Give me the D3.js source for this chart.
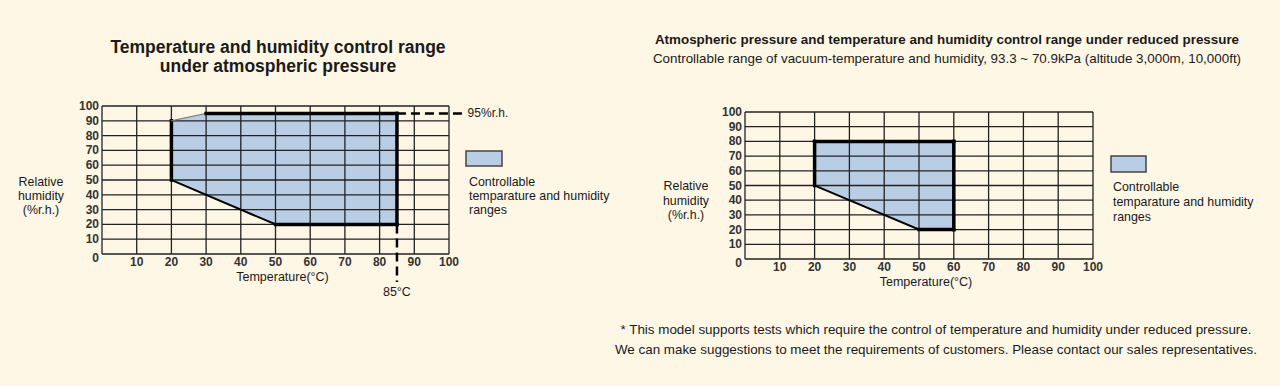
<!DOCTYPE html>
<meta charset="utf-8">
<style>
body { margin: 0; background: #fef7e6; }
svg text { font-family: "Liberation Sans", Arial, sans-serif; fill: #1a1a1a; }
</style>
<svg id="chart" width="1280" height="386"></svg>
<script src="https://d3js.org/d3.v7.min.js"></script>
<script>

// data
var gridX = [0, 10, 20, 30, 40, 50, 60, 70, 80, 90, 100];
var gridY = [0, 10, 20, 30, 40, 50, 60, 70, 80, 90, 100];
var xLabels = [10, 20, 30, 40, 50, 60, 70, 80, 90, 100];
var yLabels = [0, 10, 20, 30, 40, 50, 60, 70, 80, 90, 100];

// controllable range, atmospheric pressure (temp, %rh)
var range1 = [[20, 50], [20, 90], [30, 95], [85, 95], [85, 20], [50, 20]];
// controllable range, reduced pressure
var range2 = [[20, 50], [20, 80], [60, 80], [60, 20], [50, 20]];

var maxTemp1 = 85, maxHum1 = 95;

var svg = d3.select("svg#chart");
svg.append("rect").attr("width", 1280).attr("height", 386).attr("fill", "#fef7e6");

var fillColor = "#b9cde5";

function drawChart(left, top, w, h, region, thickEdges) {
	var x = d3.scaleLinear().domain([0, 100]).range([left, left + w]);
	var y = d3.scaleLinear().domain([0, 100]).range([top + h, top]);
	var g = svg.append("g");

	// polygon fill
	g.append("path")
		.attr("d", d3.line().x(function(d) { return x(d[0]); }).y(function(d) { return y(d[1]); })(region) + "Z")
		.attr("fill", fillColor);

	// grid
	g.selectAll("line.gx").data(gridX).enter().append("line")
		.attr("x1", function(d) { return x(d); }).attr("x2", function(d) { return x(d); })
		.attr("y1", y(0)).attr("y2", y(100))
		.attr("stroke", "#222").attr("stroke-width", 1.3);
	g.selectAll("line.gy").data(gridY).enter().append("line")
		.attr("y1", function(d) { return y(d); }).attr("y2", function(d) { return y(d); })
		.attr("x1", x(0)).attr("x2", x(100))
		.attr("stroke", "#222").attr("stroke-width", 1.3);

	// edges of the range
	for (var i = 0; i < region.length; i++) {
		var a = region[i], b = region[(i + 1) % region.length];
		var kind = thickEdges[i];
		g.append("line")
			.attr("x1", x(a[0])).attr("y1", y(a[1]))
			.attr("x2", x(b[0])).attr("y2", y(b[1]))
			.attr("stroke", kind === 0 ? "#777" : "#000")
			.attr("stroke-width", kind === 2 ? 3.5 : (kind === 1 ? 2 : 1.2))
			.attr("stroke-linecap", "square");
	}

	// tick labels
	g.selectAll("text.xl").data(xLabels).enter().append("text")
		.attr("x", function(d) { return x(d); }).attr("y", y(0) + 12)
		.attr("text-anchor", "middle")
		.style("font-size", "12px").style("font-weight", "bold").style("fill", "#333")
		.text(function(d) { return d; });
	g.selectAll("text.yl").data(yLabels).enter().append("text")
		.attr("x", x(0) - 3).attr("y", function(d) { return y(d) + (d === 0 ? 8 : 4); })
		.attr("text-anchor", "end")
		.style("font-size", "12px").style("font-weight", "bold").style("fill", "#333")
		.text(function(d) { return d; });

	g.append("text").attr("x", x(50) + 7).attr("y", y(0) + 27)
		.attr("text-anchor", "middle").style("font-size", "12.5px")
		.text("Temperature(°C)");

	return { x: x, y: y };
}

function multiline(x, y, lines, anchor, size, dy) {
	var t = svg.append("text").attr("x", x).attr("y", y)
		.attr("text-anchor", anchor).style("font-size", size + "px");
	lines.forEach(function(l, i) {
		t.append("tspan").attr("x", x).attr("dy", i === 0 ? 0 : dy).text(l);
	});
	return t;
}

// chart 1
var c1 = drawChart(102, 106, 347, 148, range1, [2, 0, 2, 2, 2, 1]);

svg.append("line")
	.attr("x1", c1.x(maxTemp1)).attr("y1", c1.y(maxHum1))
	.attr("x2", c1.x(104.5)).attr("y2", c1.y(maxHum1))
	.attr("stroke", "#000").attr("stroke-width", 2.5).attr("stroke-dasharray", "9,5");
svg.append("line")
	.attr("x1", c1.x(maxTemp1)).attr("y1", c1.y(20))
	.attr("x2", c1.x(maxTemp1)).attr("y2", c1.y(0) + 28)
	.attr("stroke", "#000").attr("stroke-width", 2.5).attr("stroke-dasharray", "9,5");
svg.append("text").attr("x", c1.x(104.5) + 3).attr("y", c1.y(maxHum1) + 4)
	.style("font-size", "12px").text(maxHum1 + "%r.h.");
svg.append("text").attr("x", c1.x(maxTemp1)).attr("y", c1.y(0) + 42)
	.attr("text-anchor", "middle").style("font-size", "12.5px").text(maxTemp1 + "°C");

multiline(278, 53, ["Temperature and humidity control range", "under atmospheric pressure"], "middle", 17.5, 19)
	.style("font-weight", "bold");
multiline(41, 186, ["Relative", "humidity", "(%r.h.)"], "middle", 12.4, 14);

svg.append("rect").attr("x", 466).attr("y", 151).attr("width", 36).attr("height", 15)
	.attr("fill", fillColor).attr("stroke", "#444").attr("stroke-width", 1.5);
multiline(469, 186, ["Controllable", "temparature and humidity", "ranges"], "start", 12.4, 14);

// chart 2
var c2 = drawChart(745, 112, 348, 147, range2, [2, 2, 2, 2, 1]);

multiline(947, 44, ["Atmospheric pressure and temperature and humidity control range under reduced pressure"], "middle", 13.4, 0)
	.style("font-weight", "bold");
multiline(947, 63, ["Controllable range of vacuum-temperature and humidity, 93.3 ~ 70.9kPa (altitude 3,000m, 10,000ft)"], "middle", 13.4, 0);
multiline(686, 190, ["Relative", "humidity", "(%r.h.)"], "middle", 12.4, 14.5);

svg.append("rect").attr("x", 1111).attr("y", 156).attr("width", 35).attr("height", 16)
	.attr("fill", fillColor).attr("stroke", "#444").attr("stroke-width", 1.5);
multiline(1113, 191, ["Controllable", "temparature and humidity", "ranges"], "start", 12.4, 15);

multiline(936, 334, ["* This model supports tests which require the control of temperature and humidity under reduced pressure.",
	"We can make suggestions to meet the requirements of customers. Please contact our sales representatives."], "middle", 13.4, 20);

</script>
